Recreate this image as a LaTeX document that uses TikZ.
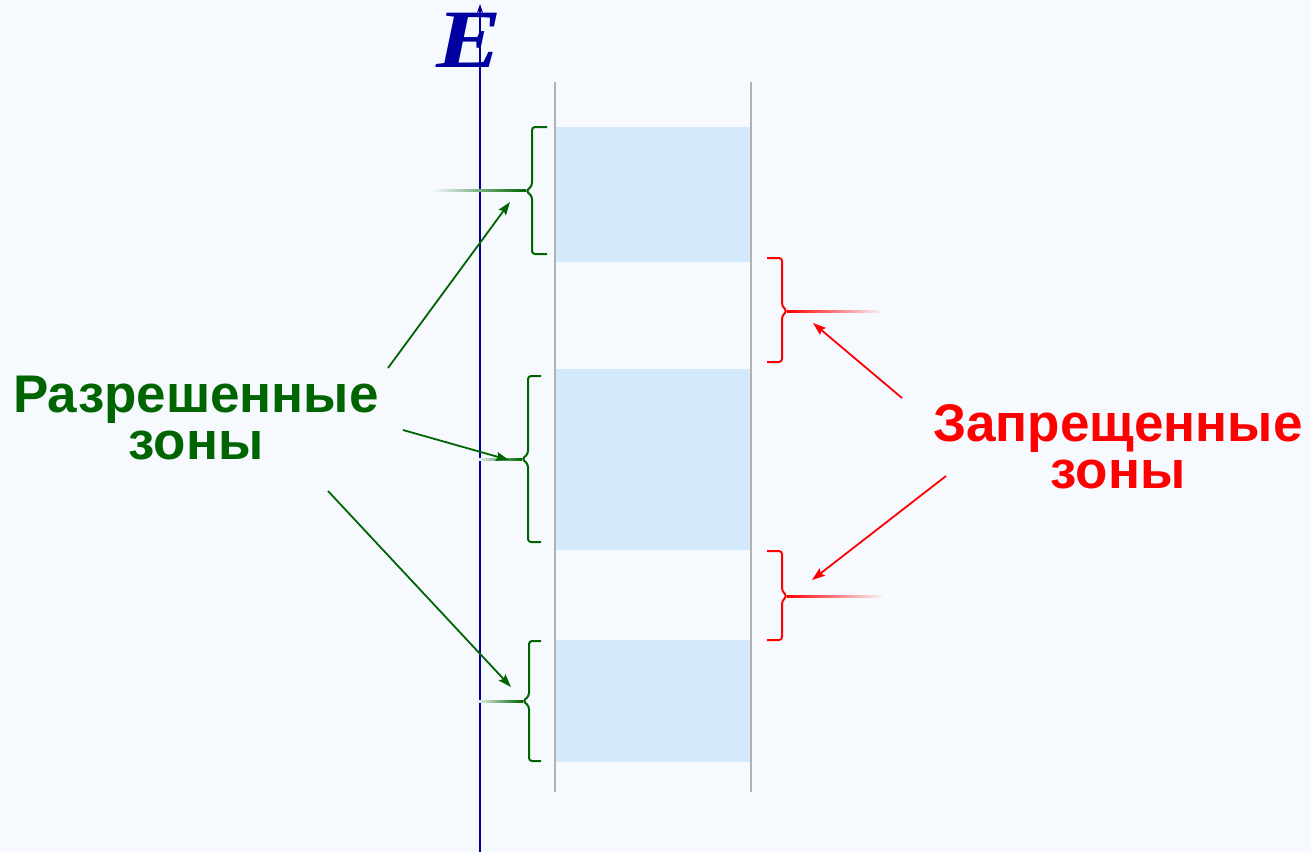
\documentclass[tikz,border=0pt]{standalone}
\usepackage{fontspec}
\setmainfont{Liberation Serif}
\newfontfamily\zonefont{Liberation Sans}
\newfontfamily\axisfont[FakeStretch=1.18]{Liberation Serif}
\usepackage{tikz}
\usetikzlibrary{arrows.meta}

\definecolor{bgblue}{RGB}{246,250,255}
\definecolor{bandblue}{RGB}{213,233,252}
\definecolor{axisblue}{RGB}{0,0,160}
\definecolor{okgreen}{RGB}{0,100,0}
\definecolor{badred}{RGB}{255,0,0}

\begin{document}
\begin{tikzpicture}[x=1pt,y=-1pt,>={Stealth[length=13pt,width=9pt,inset=2pt]},
        zonetext/.style={font=\zonefont\bfseries\fontsize{53}{47}\selectfont,align=center},
        band/.style={fill=bandblue,draw=none},
        wall/.style={draw=black!30,line width=2pt},
        okbrace/.style={draw=okgreen,line width=2pt,rounded corners=3pt},
        badbrace/.style={draw=badred,line width=2pt,rounded corners=3pt}]
        % background and frame
        \fill[bgblue] (0,0) rectangle (1311,852);
        \useasboundingbox (0,0) rectangle (1311,852);

        % allowed bands
        \fill[band] (556,127) rectangle (751,262);
        \fill[band] (556,369) rectangle (751,550);
        \fill[band] (556,640) rectangle (751,762);
        \draw[wall] (555,82) -- (555,792);
        \draw[wall] (751,82) -- (751,792);

        % energy axis
        \coordinate (axisbot) at (480,852);
        \coordinate (axistop) at (480,4);
        \draw[axisblue,line width=1.6pt,-{Stealth[length=9pt,width=6pt]}] (axisbot) -- (axistop);
        \node[text=axisblue,font=\axisfont\bfseries\itshape\fontsize{83}{83}\selectfont] (E) at (469,40) {E};

        % braces, allowed
        \draw[okbrace] (547,127) -- (532,127) -- (532,186) -- (526,191) -- (532,196) -- (532,254) -- (547,254);
        \draw[okbrace] (541,376) -- (528,376) -- (528,454) -- (522,459) -- (528,464) -- (528,542) -- (541,542);
        \draw[okbrace] (541,641) -- (529,641) -- (529,696) -- (523,701) -- (529,706) -- (529,761) -- (541,761);
        \shade[left color=bgblue,right color=okgreen] (432,189.8) rectangle (526,191.8);
        \shade[left color=bgblue,right color=okgreen] (475,458.2) rectangle (522,460.2);
        \shade[left color=bgblue,right color=okgreen] (475,700.2) rectangle (523,702.2);

        % braces, forbidden
        \draw[badbrace] (767,258) -- (782,258) -- (782,306) -- (787,311) -- (782,316) -- (782,362) -- (767,362);
        \draw[badbrace] (767,551) -- (782,551) -- (782,591) -- (787,596) -- (782,601) -- (782,640) -- (767,640);
        \shade[left color=badred,right color=bgblue] (787,310.2) rectangle (884,312.2);
        \shade[left color=badred,right color=bgblue] (787,595.2) rectangle (884,597.2);

        % labels
        \node[zonetext,text=okgreen] (allowed) at (196,418) {Разрешенные\\зоны};
        \node[zonetext,text=badred] (forbidden) at (1118,447) {Запрещенные\\зоны};

        % arrow ends
        \coordinate (ok1) at (510,202);
        \coordinate (ok2) at (509,460);
        \coordinate (ok3) at (511,687);
        \coordinate (bad1) at (813,323);
        \coordinate (bad2) at (812,580);
        \coordinate (okfrom1) at (388,368);
        \coordinate (okfrom2) at (403,430);
        \coordinate (okfrom3) at (328,491);
        \coordinate (badfrom1) at (902,398);
        \coordinate (badfrom2) at (946,476);

        \draw[->,okgreen,line width=1.8pt] (okfrom1) -- (ok1);
        \draw[->,okgreen,line width=1.8pt] (okfrom2) -- (ok2);
        \draw[->,okgreen,line width=1.8pt] (okfrom3) -- (ok3);
        \draw[->,badred,line width=1.8pt] (badfrom1) -- (bad1);
        \draw[->,badred,line width=1.8pt] (badfrom2) -- (bad2);
    \end{tikzpicture}
\end{document}
